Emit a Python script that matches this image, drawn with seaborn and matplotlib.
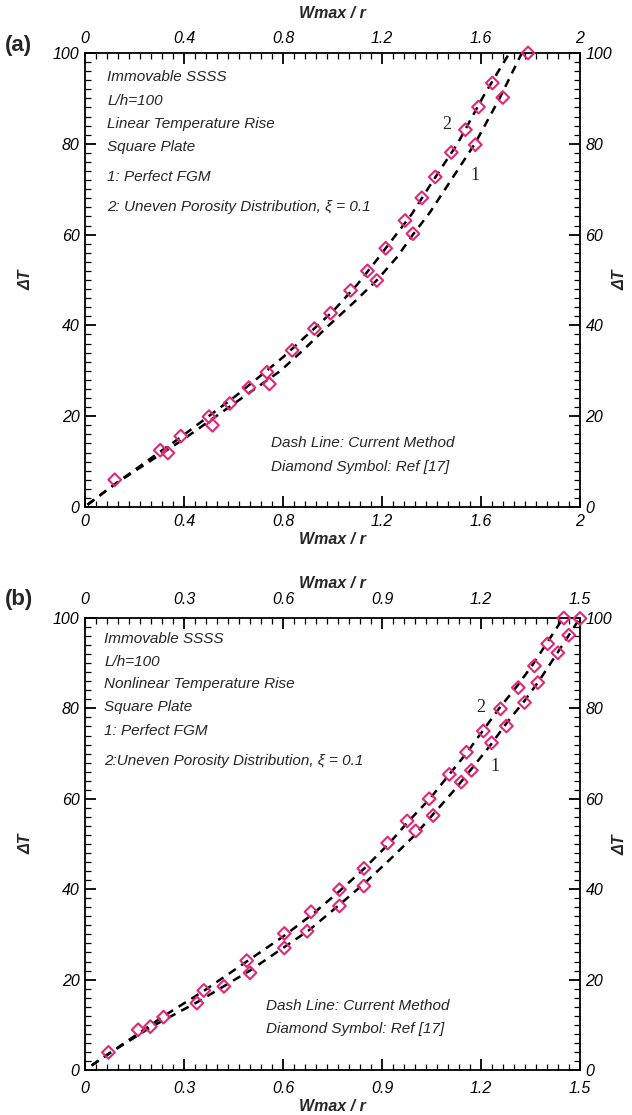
import matplotlib
matplotlib.use('Agg')
import pandas as pd
import matplotlib.pyplot as plt
import seaborn as sns
from matplotlib.ticker import AutoMinorLocator

# ---- panel (a): linear temperature rise ----
a_line1_w = [0.01, 0.12, 0.26, 0.40, 0.53, 0.66, 0.79, 0.89, 0.985, 1.085, 1.18, 1.26, 1.325,
             1.395, 1.455, 1.515, 1.575, 1.625, 1.675, 1.72, 1.765]
a_line1_t = [0.5, 5, 10, 15, 20, 25, 30, 35, 40, 45, 50, 55, 60, 65, 70, 75, 80, 85, 90, 95, 100]
a_line2_w = [0.01, 0.12, 0.26, 0.39, 0.50, 0.61, 0.70, 0.80, 0.92, 1.00, 1.10, 1.18, 1.25,
             1.32, 1.39, 1.45, 1.505, 1.56, 1.61, 1.665, 1.715]
a_line2_t = [0.5, 5, 10.5, 15.5, 20, 24.5, 28.5, 33, 39, 43, 49, 54.5, 59.5, 64.5, 70.5,
             75.5, 80, 85.5, 90.5, 95.5, 100]
a_ref1_w = [0.12, 0.335, 0.515, 0.745, 1.179, 1.325, 1.577, 1.688, 1.79]
a_ref1_t = [6.0, 11.9, 18.0, 27.1, 49.9, 60.2, 79.8, 90.2, 100.0]
a_ref2_w = [0.304, 0.387, 0.501, 0.585, 0.662, 0.735, 0.837, 0.927, 0.992, 1.073, 1.141,
            1.215, 1.293, 1.361, 1.415, 1.48, 1.537, 1.59, 1.646]
a_ref2_t = [12.5, 15.6, 19.9, 22.8, 26.3, 29.7, 34.5, 39.3, 42.7, 47.7, 52.0, 57.0, 63.1,
            68.1, 72.7, 78.1, 83.1, 88.1, 93.4]
a_xticks = [0, 0.4, 0.8, 1.2, 1.6, 2.0]
a_xticklabels = ['0', '0.4', '0.8', '1.2', '1.6', '2']

# ---- panel (b): nonlinear temperature rise ----
b_line1_w = [0.02, 0.07, 0.20, 0.34, 0.42, 0.50, 0.60, 0.68, 0.77, 0.85, 0.93, 1.00, 1.06,
             1.12, 1.17, 1.23, 1.28, 1.33, 1.375, 1.42, 1.46, 1.50]
b_line1_t = [1, 3.5, 9.5, 15, 18.5, 22, 27, 31, 36.5, 41.5, 47, 52, 57, 62, 66.5, 72, 77,
             81.5, 86, 91, 95.5, 100]
b_line2_w = [0.02, 0.07, 0.16, 0.24, 0.36, 0.49, 0.60, 0.69, 0.77, 0.845, 0.92, 0.98, 1.045,
             1.105, 1.155, 1.205, 1.255, 1.31, 1.355, 1.40, 1.44, 1.45]
b_line2_t = [1, 3.5, 8, 12, 17.5, 24, 29.5, 34.5, 39.5, 44.5, 50, 55, 60, 65.5, 70, 75, 80,
             85, 89.5, 94.5, 99, 100]
b_ref1_w = [0.071, 0.198, 0.339, 0.421, 0.50, 0.604, 0.673, 0.771, 0.845, 1.002, 1.055, 1.14,
            1.171, 1.232, 1.277, 1.332, 1.372, 1.433, 1.466, 1.50]
b_ref1_t = [3.9, 9.6, 14.8, 18.5, 21.5, 27.0, 30.7, 36.3, 40.7, 52.9, 56.3, 63.7, 66.3, 72.4,
            76.1, 81.3, 85.7, 92.3, 96.2, 99.9]
b_ref2_w = [0.161, 0.238, 0.36, 0.49, 0.604, 0.685, 0.771, 0.845, 0.917, 0.976, 1.043, 1.104,
            1.156, 1.207, 1.259, 1.313, 1.362, 1.402, 1.451]
b_ref2_t = [8.9, 11.7, 17.6, 24.2, 30.2, 35.0, 39.9, 44.6, 50.2, 55.1, 60.0, 65.4, 70.3, 75.0,
            79.9, 84.6, 89.4, 94.3, 100.0]
b_xticks = [0, 0.3, 0.6, 0.9, 1.2, 1.5]
b_xticklabels = ['0', '0.3', '0.6', '0.9', '1.2', '1.5']

yticks = [0, 20, 40, 60, 80, 100]
yticklabels = ['0', '20', '40', '60', '80', '100']

a_notes = ['Immovable SSSS', 'L/h=100', 'Linear Temperature Rise', 'Square Plate',
           '1: Perfect FGM', '2: Uneven Porosity Distribution, \u03be = 0.1']
a_notes_y = [94.7, 89.5, 84.4, 79.2, 72.7, 66.0]
b_notes = ['Immovable SSSS', 'L/h=100', 'Nonlinear Temperature Rise', 'Square Plate',
           '1: Perfect FGM', '2:Uneven Porosity Distribution, \u03be = 0.1']
b_notes_y = [95.3, 90.3, 85.3, 80.3, 75.0, 68.3]
legend_notes = ['Dash Line: Current Method', 'Diamond Symbol: Ref [17]']

sns.set_theme(style='ticks')
plt.rcParams['font.family'] = ['Liberation Sans', 'DejaVu Sans']

PINK = '#e0287a'


def draw_panel(ax, lines, refs, xticks, xticklabels, notes, notes_x, notes_y,
               lab2, lab1, legend_xy, bottom_pad):
    for w, t in lines:
        df = pd.DataFrame({'w': w, 't': t})
        sns.lineplot(data=df, x='w', y='t', ax=ax, sort=False, color='black',
                     linewidth=1.8, estimator=None)
        ax.lines[-1].set_dashes((3.4, 2.6))
    for w, t in refs:
        df = pd.DataFrame({'w': w, 't': t})
        sns.scatterplot(data=df, x='w', y='t', ax=ax, marker='D', s=42,
                        facecolor='none', edgecolor=PINK, linewidth=1.5,
                        clip_on=False, zorder=5)

    ax.set_xlim(xticks[0], xticks[-1])
    ax.set_ylim(0, 100)
    ax.set_xticks(xticks, xticklabels)
    ax.set_yticks(yticks, yticklabels)
    ax.xaxis.set_minor_locator(AutoMinorLocator(9))
    ax.yaxis.set_minor_locator(AutoMinorLocator(10))
    ax.tick_params(which='both', direction='in', top=True, right=True,
                   labeltop=True, labelright=True, colors='black',
                   labelsize=11.5)
    ax.tick_params(which='major', length=8, width=1.3, pad=4)
    ax.tick_params(which='minor', length=4, width=0.9)
    ax.tick_params(axis='x', which='major', pad=bottom_pad)
    for t in ax.xaxis.get_major_ticks() + ax.yaxis.get_major_ticks():
        t.label1.set_style('italic')
        t.label2.set_style('italic')
    for sp in ax.spines.values():
        sp.set_visible(True)
        sp.set_linewidth(1.3)
        sp.set_color('black')

    ax.set_xlabel('Wmax / r', fontsize=11.5, fontweight='bold', style='italic', labelpad=2)
    ax.set_ylabel('\u0394T', fontsize=11.5, fontweight='bold', style='italic', labelpad=14)

    for s, y in zip(notes, notes_y):
        ax.text(notes_x, y, s, fontsize=11, style='italic', ha='left', va='center')
    ax.text(lab2[0], lab2[1], '2', fontsize=13, family='Liberation Serif',
            ha='center', va='center')
    ax.text(lab1[0], lab1[1], '1', fontsize=13, family='Liberation Serif',
            ha='center', va='center')
    ax.text(legend_xy[0], legend_xy[1], legend_notes[0], fontsize=11, style='italic',
            ha='left', va='center')
    ax.text(legend_xy[0], legend_xy[1] - 5.2, legend_notes[1], fontsize=11, style='italic',
            ha='left', va='center')


fig = plt.figure(figsize=(6.32, 11.15), dpi=100)
ax_a = fig.add_axes([85 / 632, 1 - 507 / 1115, 495 / 632, 454 / 1115])
ax_b = fig.add_axes([85 / 632, 1 - 1070 / 1115, 495 / 632, 452 / 1115])

draw_panel(ax_a, [(a_line1_w, a_line1_t), (a_line2_w, a_line2_t)],
           [(a_ref1_w, a_ref1_t), (a_ref2_w, a_ref2_t)],
           a_xticks, a_xticklabels, a_notes, 0.09, a_notes_y,
           (1.463, 84.3), (1.577, 73.1), (0.75, 14.0), 5)
draw_panel(ax_b, [(b_line1_w, b_line1_t), (b_line2_w, b_line2_t)],
           [(b_ref1_w, b_ref1_t), (b_ref2_w, b_ref2_t)],
           b_xticks, b_xticklabels, b_notes, 0.058, b_notes_y,
           (1.199, 80.1), (1.241, 67.2), (0.549, 14.2), 8)

# top axis titles
fig.text(0.5 * (85 + 580) / 632, 1 - 14 / 1115, 'Wmax / r', fontsize=11.5,
         fontweight='bold', style='italic', ha='center', va='center')
fig.text(0.5 * (85 + 580) / 632, 1 - 584 / 1115, 'Wmax / r', fontsize=11.5,
         fontweight='bold', style='italic', ha='center', va='center')

fig.text(5 / 632, 1 - 45 / 1115, '(a)', fontsize=16, fontweight='bold', ha='left', va='center')
fig.text(5 / 632, 1 - 600 / 1115, '(b)', fontsize=16, fontweight='bold', ha='left', va='center')
fig.text(612 / 632, 1 - 280 / 1115, '\u0394T', fontsize=11.5, fontweight='bold',
         style='italic', rotation=90, ha='left', va='center')
fig.text(612 / 632, 1 - 845 / 1115, '\u0394T', fontsize=11.5, fontweight='bold',
         style='italic', rotation=90, ha='left', va='center')

fig.savefig('out.png', dpi=100, facecolor='white')
